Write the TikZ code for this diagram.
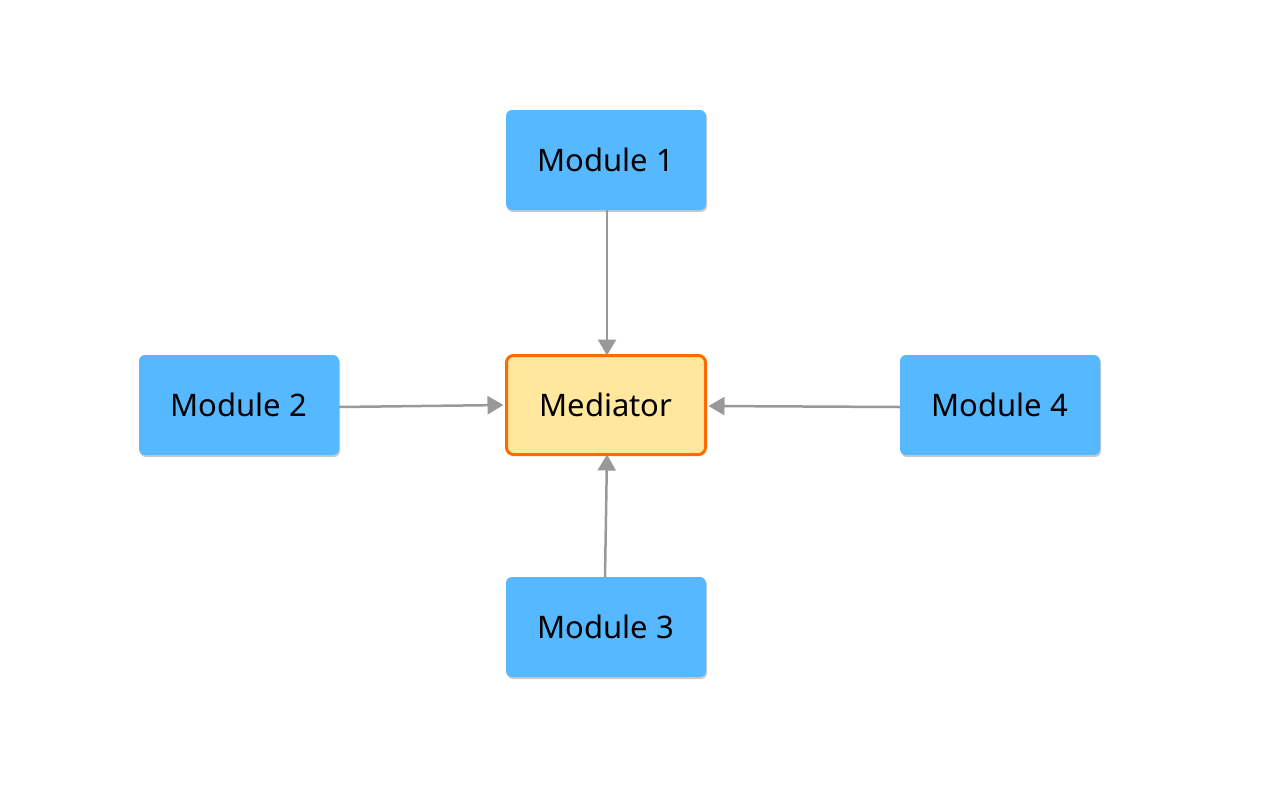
\documentclass[tikz,border=0pt]{standalone}
\usepackage{fontspec}
\setmainfont{Noto Sans}
\usetikzlibrary{arrows.meta,shadows}
\definecolor{modblue}{HTML}{56B8FF}
\definecolor{medfill}{HTML}{FFE89D}
\definecolor{medline}{HTML}{FF6A00}
\definecolor{arrgray}{HTML}{999999}
\tikzset{
  module/.style={rectangle, rounded corners=6pt, fill=modblue, draw=none,
    minimum width=200pt, minimum height=100pt, inner sep=0pt,
    font=\fontsize{31}{37}\selectfont,
    drop shadow={shadow xshift=1pt, shadow yshift=-2pt, opacity=0.35, fill=black!60}},
  mediator/.style={rectangle, rounded corners=7pt, fill=medfill, draw=medline, line width=3pt,
    minimum width=199pt, minimum height=99pt, inner sep=0pt,
    font=\fontsize{31}{37}\selectfont},
  conn/.style={draw=arrgray, line width=2.5pt, -{Triangle[length=16pt,width=18pt]}}
}
\begin{document}
\begin{tikzpicture}[x=1pt,y=-1pt]
\useasboundingbox (0,0) rectangle (1262,788);
\node[mediator] (med) at (606,405) {\raisebox{-3pt}{Mediator}};
\node[module] (m1) at (606,160) {Module 1};
\node[module] (m2) at (239,405) {Module 2};
\node[module] (m4) at (1000,405) {Module 4};
\node[module] (m3) at (606,627) {Module 3};
\draw[conn] ([xshift=1pt]m1.south) -- ([xshift=1pt,yshift=-1.5pt]med.north);
\draw[conn] ([yshift=-2pt]m2.east) -- ([xshift=-1.5pt]med.west);
\draw[conn] ([yshift=-2pt]m4.west) -- ([xshift=1.5pt,yshift=-1pt]med.east);
\draw[conn] ([xshift=-1pt]m3.north) -- ([xshift=1pt,yshift=1.5pt]med.south);
\end{tikzpicture}
\end{document}
